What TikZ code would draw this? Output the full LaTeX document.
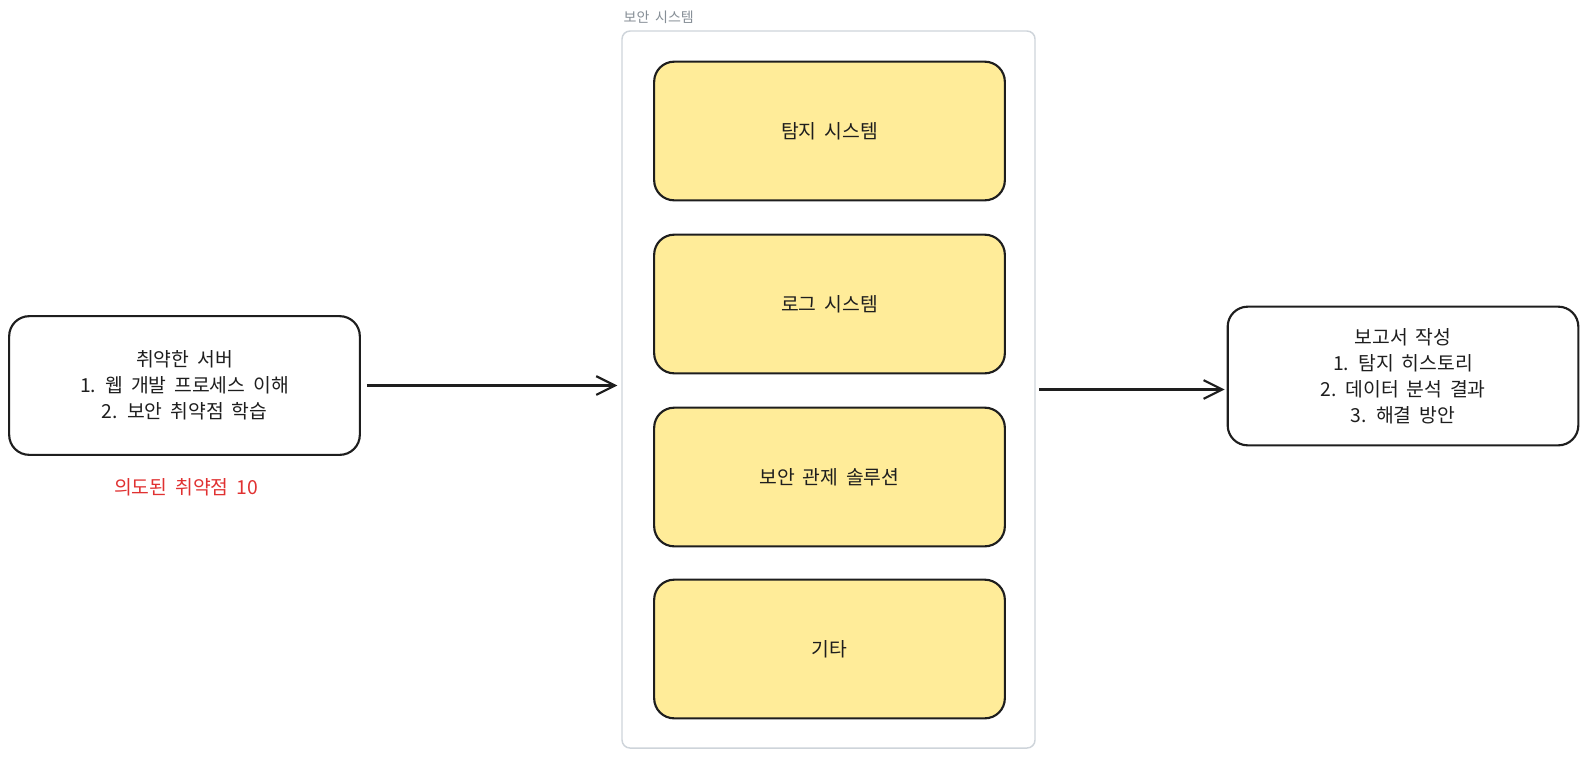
\documentclass[tikz,border=0pt]{standalone}
\usepackage{fontspec}
\setmainfont{Noto Sans CJK KR}[WordSpace=1.8]
\usetikzlibrary{arrows.meta}
\definecolor{ink}{HTML}{1E1E1E}
\definecolor{note}{HTML}{FFEC99}
\definecolor{frame}{HTML}{CED4DA}
\definecolor{cap}{HTML}{868E96}
\definecolor{warn}{HTML}{E03131}
\tikzset{
    sbox/.style={draw=ink, line width=1.6pt, rounded corners=15pt, align=center, font=\fontsize{14.5}{19.5}\selectfont, text=ink, minimum width=263pt, minimum height=104pt},
    ybox/.style={sbox, fill=note},
    link/.style={draw=ink, line width=1.6pt, -{Straight Barb[length=14pt,width=14pt,line width=1.6pt]}}
}
\begin{document}
\begin{tikzpicture}[x=0.75pt, y=-0.75pt]
        \useasboundingbox (0,0) rectangle (1587,758);
        \node[draw=frame, line width=1.1pt, rounded corners=6pt, minimum width=309.75pt, minimum height=537.75pt] (secsys) at (828.5,389.5) {};
        \node[anchor=west, text=cap, font=\fontsize{10.5}{12}\selectfont] (secname) at (619,17) {보안 시스템};
        \node[ybox] (detect) at (829.5,131) {탐지 시스템};
        \node[ybox] (logsys) at (829.5,304) {로그 시스템};
        \node[ybox] (soc) at (829.5,477) {보안 관제 솔루션};
        \node[ybox] (etc) at (829.5,649) {기타};
        \node[sbox] (vuln) at (184.5,385.5) {취약한 서버\\1. 웹 개발 프로세스 이해\\2. 보안 취약점 학습};
        \node[text=warn, font=\fontsize{14.5}{16}\selectfont] (vulnnum) at (186,487) {의도된 취약점 10};
        \node[sbox] (report) at (1403,376) {보고서 작성\\1. 탐지 히스토리\\2. 데이터 분석 결과\\3. 해결 방안};
        \draw[link, shorten <=4.5pt, shorten >=3pt] (vuln.east) -- (vuln.east -| secsys.west);
        \draw[link, shorten <=2.5pt, shorten >=1.5pt] (secsys.east) -- (secsys.east -| report.west);
    \end{tikzpicture}
\end{document}
